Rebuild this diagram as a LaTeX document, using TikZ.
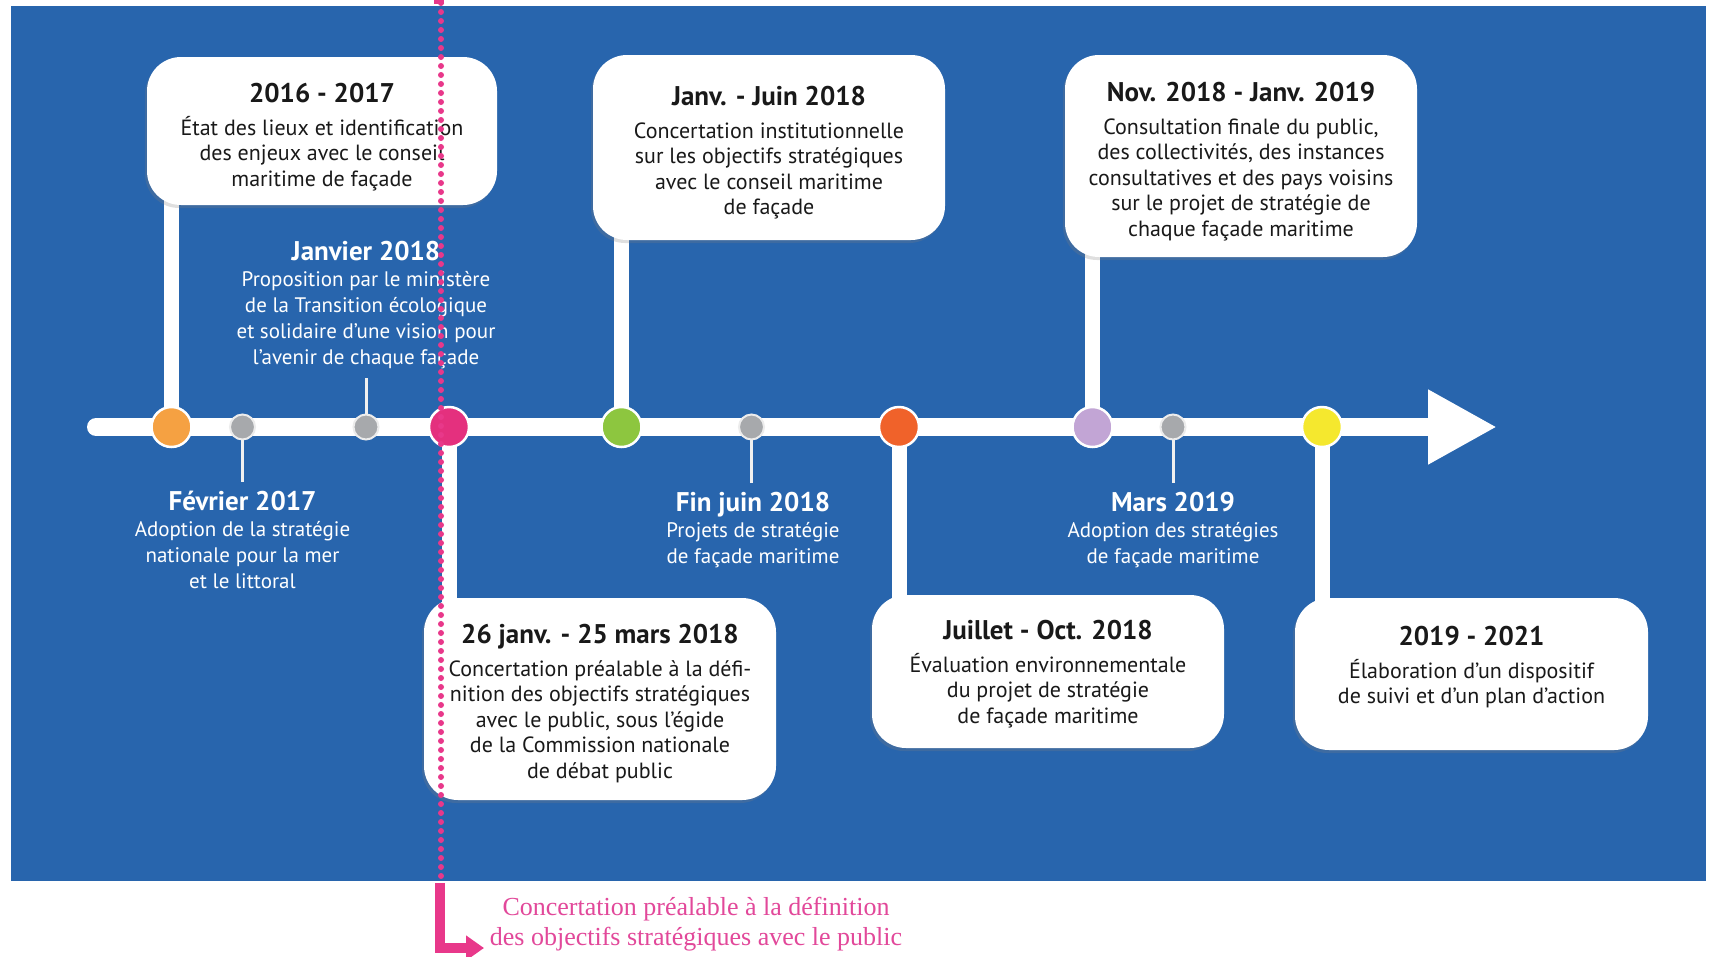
\documentclass[tikz,border=0pt]{standalone}
\usepackage{fontspec}
\setmainfont{PT Sans}
\newfontfamily\pinkserif{Liberation Serif}
\usetikzlibrary{arrows.meta,shadows}
\definecolor{bgblue}{HTML}{2865AD}
\definecolor{cOrange}{HTML}{F5A142}
\definecolor{cPink}{HTML}{E4307E}
\definecolor{cGreen}{HTML}{8DC63F}
\definecolor{cRed}{HTML}{F0622A}
\definecolor{cLav}{HTML}{C2A5D5}
\definecolor{cYel}{HTML}{F5E82E}
\definecolor{cGray}{HTML}{A7A9AC}
\definecolor{pinkline}{HTML}{E8388A}
\definecolor{pinktext}{HTML}{E2489A}
\pgfdeclarelayer{bg}
\pgfsetlayers{bg,main}
\newcommand{\ttl}[1]{{\bfseries\fontsize{27}{31}\selectfont #1}}
\begin{document}
\begin{tikzpicture}[x=1pt,y=-1pt,
  box/.style={fill=white, rounded corners=34pt,
    drop shadow={shadow xshift=-2pt, shadow yshift=-3pt, opacity=0.25}},
  boxtext/.style={anchor=north, inner sep=0pt, align=center, text=black!90,
    font=\fontsize{22}{25.5}\selectfont},
  dot/.style={circle, draw=white, line width=2.5pt, minimum size=40pt, inner sep=0pt},
  gdot/.style={circle, draw=white!85!gray, line width=2pt, fill=cGray, minimum size=25pt, inner sep=0pt},
  conn/.style={white, line width=15pt},
  thinconn/.style={white!88!gray, line width=3pt},
  lab/.style={align=center, text=white, font=\fontsize{21}{26}\selectfont},
  pinkdots/.style={pinkline, line width=6pt, dash pattern=on 0pt off 9pt, line cap=round},
  pinkarrow/.style={pinkline, line width=10pt, -{Triangle[length=18pt,width=24pt]}}
]
\useasboundingbox (0,0) rectangle (1713,956);
\begin{pgfonlayer}{bg}
\fill[white] (0,0) rectangle (1713,956);
\fill[bgblue] (11,6) rectangle (1706,881);
\fill[pinkline] (434,0) rectangle (444,4);
\end{pgfonlayer}

% timeline dots
\node[dot, fill=cOrange] (d1) at (171.5,427) {};
\node[gdot] (g1) at (242.5,427) {};
\node[gdot] (g2) at (366,427) {};
\node[dot, fill=cPink] (d2) at (449,427) {};
\node[dot, fill=cGreen] (d3) at (621.5,427) {};
\node[gdot] (g3) at (751.5,427) {};
\node[dot, fill=cRed] (d4) at (899,427) {};
\node[dot, fill=cLav] (d5) at (1092.5,427) {};
\node[gdot] (g4) at (1173,427) {};
\node[dot, fill=cYel] (d6) at (1322,427) {};

% boxes
\node[box, minimum width=350pt, minimum height=148pt] (b1) at (322,131) {};
\node[box, minimum width=352pt, minimum height=185pt] (b2) at (769,147.5) {};
\node[box, minimum width=352pt, minimum height=202pt] (b3) at (1241,156) {};
\node[box, minimum width=352pt, minimum height=202pt] (b4) at (600,699) {};
\node[box, minimum width=352pt, minimum height=153pt] (b5) at (1048,671.5) {};
\node[box, minimum width=353pt, minimum height=152pt] (b6) at (1471.5,674) {};

\node[boxtext] (t1) at ([yshift=-26pt]b1.north)
  {\ttl{2016 - 2017}\\[7.5pt]État des lieux et identification\\des enjeux avec le conseil\\maritime de façade};
\node[boxtext] (t2) at ([yshift=-31pt]b2.north)
  {\ttl{Janv. - Juin 2018}\\[7.5pt]Concertation institutionnelle\\sur les objectifs stratégiques\\avec le conseil maritime\\de façade};
\node[boxtext] (t3) at ([yshift=-27pt]b3.north)
  {\ttl{Nov. 2018 - Janv. 2019}\\[7.5pt]Consultation finale du public,\\des collectivités, des instances\\consultatives et des pays voisins\\sur le projet de stratégie de\\chaque façade maritime};
\node[boxtext] (t4) at ([yshift=-26pt]b4.north)
  {\ttl{26 janv. - 25 mars 2018}\\[7.5pt]Concertation préalable à la défi-\\nition des objectifs stratégiques\\avec le public, sous l'égide\\de la Commission nationale\\de débat public};
\node[boxtext] (t5) at ([yshift=-25pt]b5.north)
  {\ttl{Juillet - Oct. 2018}\\[7.5pt]Évaluation environnementale\\du projet de stratégie\\de façade maritime};
\node[boxtext] (t6) at ([yshift=-28pt]b6.north)
  {\ttl{2019 - 2021}\\[7.5pt]Élaboration d'un dispositif\\de suivi et d'un plan d'action};

% labels on blue
\node[lab] (l1) at (242.5,540)
  {\ttl{Février 2017}\\Adoption de la stratégie\\nationale pour la mer\\et le littoral};
\node[lab] (l2) at (366,305)
  {\ttl{Janvier 2018}\\Proposition par le ministère\\de la Transition écologique\\et solidaire d'une vision pour\\l'avenir de chaque façade};
\node[lab] (l3) at (753,530)
  {\ttl{Fin juin 2018}\\Projets de stratégie\\de façade maritime};
\node[lab] (l4) at (1173,530)
  {\ttl{Mars 2019}\\Adoption des stratégies\\de façade maritime};

% pink annotation text
\node[align=center, text=pinktext, font=\pinkserif\fontsize{26}{29.5}\selectfont] (pt) at (696,924)
  {Concertation préalable à la définition\\des objectifs stratégiques avec le public};

\coordinate (tl0) at (96,427);
\coordinate (tl1) at (1497,427);
\coordinate (pa0) at (440,883);
\coordinate (pa1) at (440,948);
\coordinate (pa2) at (484,948);
\coordinate (pd0) at (441,3);
\coordinate (pd1) at (441,876);

\begin{pgfonlayer}{bg}
\draw[white, line width=18pt, line cap=round, -{Triangle[length=69pt,width=70pt]}] (tl0) -- (tl1);
\draw[conn] (d1.center) -- (d1 |- b1.center);
\draw[conn] (d3.center) -- (d3 |- b2.center);
\draw[conn] (d5.center) -- (d5 |- b3.center);
\draw[conn] (d2.center) -- (d2 |- b4.center);
\draw[conn] (d4.center) -- (d4 |- b5.center);
\draw[conn] (d6.center) -- (d6 |- b6.center);
\draw[thinconn] (g1.center) -- ([yshift=6pt]g1 |- l1.north);
\draw[thinconn] (g2.center) -- ([yshift=-6pt]g2 |- l2.south);
\draw[thinconn] (g3.center) -- ([yshift=6pt]g3 |- l3.north);
\draw[thinconn] (g4.center) -- ([yshift=6pt]g4 |- l4.north);
\end{pgfonlayer}

\draw[pinkdots] (pd0) -- (pd1);
\draw[pinkarrow] (pa0) -- (pa1) -- (pa2);
\end{tikzpicture}
\end{document}
